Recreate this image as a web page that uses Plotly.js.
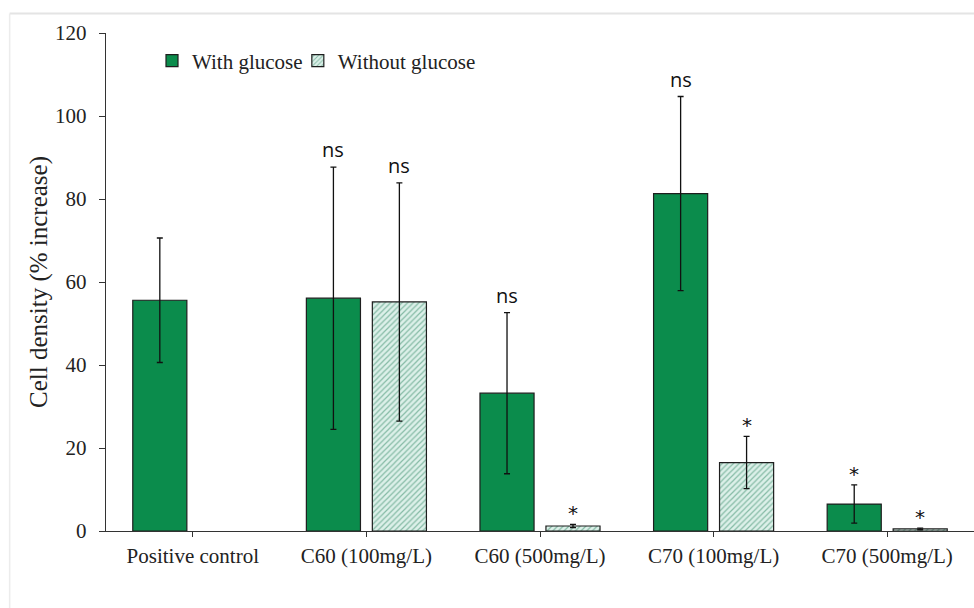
<!DOCTYPE html>
<html>
<head>
<meta charset="utf-8">
<script src="https://cdn.plot.ly/plotly-3.0.1.min.js"></script>
<style>html,body{margin:0;padding:0;background:#fff;}#chart{width:974px;height:608px;}</style>
</head>
<body>
<div id="chart"></div>
<script>
const categories = ["Positive control", "C60 (100mg/L)", "C60 (500mg/L)", "C70 (100mg/L)", "C70 (500mg/L)"];
const withGlucose = [55.6, 56.1, 33.2, 81.3, 6.5];
const withGlucoseErr = [15.0, 31.6, 19.4, 23.4, 4.6];
const withoutGlucose = [null, 55.2, 1.2, 16.5, 0.5];
const withoutGlucoseErr = [null, 28.7, 0.4, 6.3, 0.2];
const withLabels = ["", "ns", "ns", "ns", "*"];
const withoutLabels = ["", "ns", "*", "*", "*"];

const SERIF = "Liberation Serif, Times New Roman, serif";
const green = "#0b8c4c";
const traces = [
  {
    type: "bar", name: "With glucose", x: categories, y: withGlucose, legend: "legend",
    marker: {color: green, line: {color: "#1e1e1e", width: 1.2}},
    error_y: {type: "data", array: withGlucoseErr, visible: true, color: "#111", thickness: 1.3, width: 3}
  },
  {
    type: "bar", name: "Without glucose", x: categories, y: withoutGlucose, legend: "legend2",
    marker: {color: "#dcf0e9", line: {color: "#1e1e1e", width: 1.2},
             pattern: {shape: "/", fgcolor: "#86bba6", bgcolor: "#dcf0e9", size: 4, solidity: 0.3}},
    error_y: {type: "data", array: withoutGlucoseErr, visible: true, color: "#111", thickness: 1.3, width: 3}
  }
];

const annotations = [];
function addLabels(labels, vals, errs, shift) {
  labels.forEach((t, i) => {
    if (!t) return;
    const isStar = t === "*";
    annotations.push({
      x: categories[i], y: vals[i] + errs[i], xref: "x", yref: "y",
      text: t, showarrow: false, xshift: shift, yanchor: "bottom",
      yshift: isStar ? -3 : 2,
      font: isStar ? {family: "DejaVu Sans", size: 20, color: "#111"}
                   : {family: "Open Sans", size: 20, color: "#111"}
    });
  });
}
addLabels(withLabels, withGlucose, withGlucoseErr, -33);
addLabels(withoutLabels, withoutGlucose, withoutGlucoseErr, 33);

const legendBase = {orientation: "h", y: 0.985, xanchor: "left", yanchor: "top",
  font: {family: SERIF, size: 21, color: "#222"}, bgcolor: "rgba(0,0,0,0)", itemwidth: 30};

const layout = {
  width: 974, height: 608,
  margin: {l: 106, r: 0, t: 33, b: 77},
  paper_bgcolor: "#fff", plot_bgcolor: "#fff",
  font: {family: SERIF, size: 20, color: "#222"},
  barmode: "group", bargap: 0.24, bargroupgap: 0.18,
  showlegend: true,
  legend: Object.assign({}, legendBase, {x: 0.053}),
  legend2: Object.assign({}, legendBase, {x: 0.221}),
  xaxis: {type: "category", range: [-0.5, 4.5], showline: true, linecolor: "#333", linewidth: 1.3,
          ticks: "outside", ticklen: 5, tickcolor: "#333", showgrid: false, zeroline: false,
          tickfont: {family: SERIF, size: 21, color: "#222"}, fixedrange: true},
  yaxis: {range: [0, 120], dtick: 20, showline: true, linecolor: "#333", linewidth: 1.3,
          ticks: "outside", ticklen: 6, tickcolor: "#333", showgrid: false, zeroline: false,
          ticklabelstandoff: 8,
          tickfont: {family: SERIF, size: 21, color: "#222"},
          title: {text: "Cell density (% increase)", font: {family: SERIF, size: 25, color: "#222"}, standoff: 0}},
  annotations: annotations,
  shapes: [
    {type: "line", xref: "paper", yref: "paper", x0: -0.111, x1: 1.01, y0: 1.039, y1: 1.039,
     line: {color: "#e4e4e4", width: 2}},
    {type: "line", xref: "paper", yref: "paper", x0: -0.111, x1: -0.111, y0: 1.039, y1: -0.2,
     line: {color: "#ececec", width: 1.5}}
  ]
};

Plotly.newPlot("chart", traces, layout, {displayModeBar: false, staticPlot: true});
</script>
</body>
</html>
